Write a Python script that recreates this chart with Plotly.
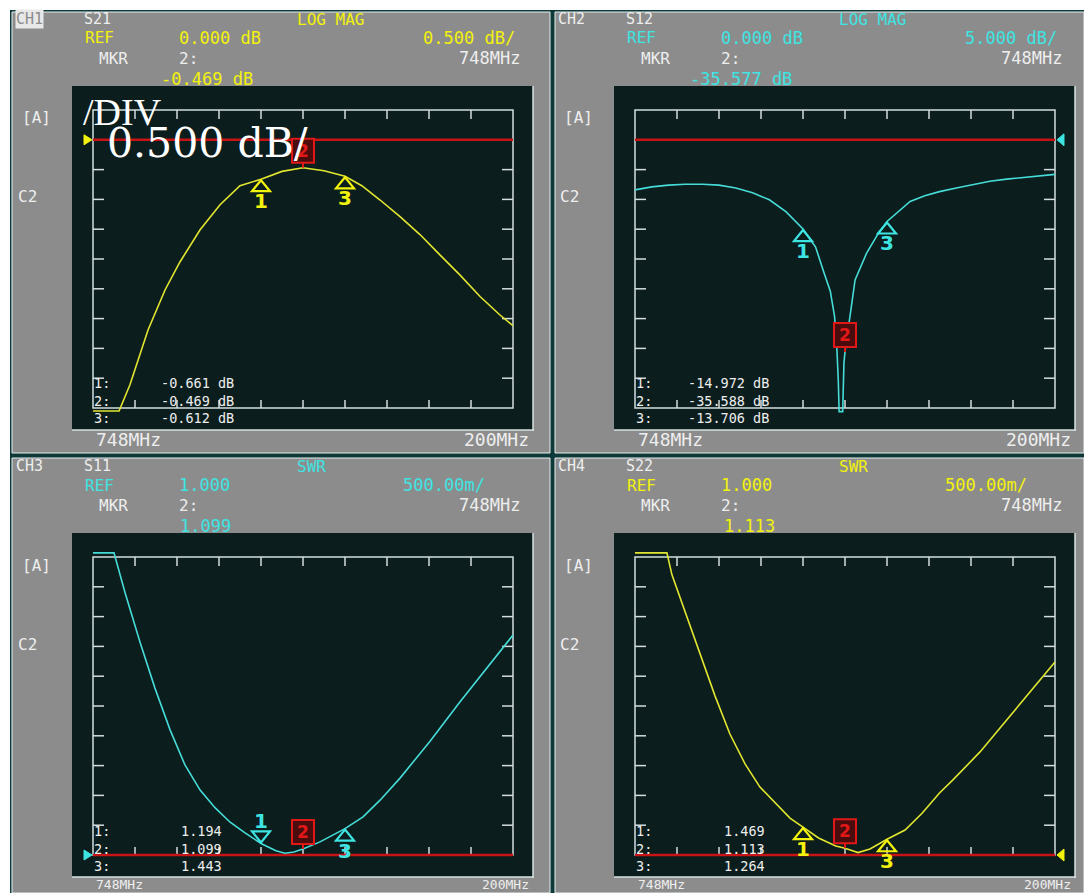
import plotly.graph_objects as go

W, H = 1084, 893

# ---------------- data ----------------
marker_mhz = [728, 748, 768]          # markers 1, 2, 3
freq_start, freq_stop = 648, 848       # 748 MHz centre, 200 MHz span

s21_mhz = [648, 660.4, 665.6, 674.2, 682.3, 689.4, 699.0, 708.5, 718.0, 728, 738, 748,
           758, 768, 776, 784.7, 794.2, 803.7, 813.2, 822.8, 832.3, 841.8, 848]
s21_db = [-4.55, -4.55, -4.11, -3.19, -2.52, -2.05, -1.51, -1.09, -0.77, -0.661, -0.53, -0.469,
          -0.52, -0.612, -0.77, -1.01, -1.29, -1.59, -1.93, -2.27, -2.63, -2.94, -3.12]

s12_mhz = [648, 656, 664, 672, 680, 688, 696, 704, 712, 720, 728, 734, 738, 741, 743, 744,
           744.8, 745.2, 746.9, 747.5, 748, 748.8, 750.4, 752.8, 758.3, 763, 768, 774, 779,
           786, 793, 801, 809, 817, 825, 834, 841, 848]
s12_db = [-8.4, -7.9, -7.6, -7.45, -7.45, -7.6, -8.1, -8.9, -10.07, -12.1, -14.972, -18.0,
          -22.3, -25.4, -29.6, -34.0, -40.3, -45.6, -45.6, -37.4, -35.588, -33.6, -29.0,
          -23.5, -19.0, -16.2, -13.706, -11.9, -10.35, -9.4, -8.7, -8.1, -7.5, -6.95, -6.6,
          -6.28, -6.0, -5.8]

s11_mhz = [648, 658, 663.2, 670.4, 677.5, 684.7, 691.8, 699.0, 706.2, 713.3, 720.4, 728,
           735.1, 739.4, 743.7, 748, 756.1, 768, 776.6, 784.7, 794.2, 808.5, 822.8, 837.0, 848]
s11_swr = [6.07, 6.07, 5.41, 4.57, 3.80, 3.10, 2.51, 2.09, 1.79, 1.55, 1.37, 1.194,
           1.07, 1.03, 1.05, 1.099, 1.22, 1.443, 1.64, 1.92, 2.29, 2.91, 3.57, 4.20, 4.69]

s22_mhz = [648, 663.2, 665.6, 671.8, 679.0, 686.1, 693.2, 700.4, 707.5, 714.7, 721.8, 728,
           735.4, 743.6, 748, 754.2, 759.9, 768, 776.6, 784.7, 793.0, 799.4, 812.3, 824.2,
           836.1, 848]
s22_swr = [6.07, 6.07, 5.70, 5.08, 4.36, 3.67, 3.03, 2.53, 2.14, 1.87, 1.62, 1.469,
           1.285, 1.15, 1.113, 1.04, 1.10, 1.264, 1.42, 1.70, 2.04, 2.26, 2.73, 3.23,
           3.73, 4.24]

mk_s21 = [-0.661, -0.469, -0.612]
mk_s12 = [-14.972, -35.588, -13.706]
mk_s11 = [1.194, 1.099, 1.443]
mk_s22 = [1.469, 1.113, 1.264]

# ---------------- styling ----------------
YEL = "#f2f20c"
CYA = "#3ee4e2"
WHT = "#eeeeee"
RED = "#e01818"
YEL_T = "#e2e630"
CYA_T = "#46dcd8"
FRAME = "#d4dede"
GREY = "#8c8c8c"
DARK = "#0b1d1d"
BORDER = "#0f3838"
MONO = "DejaVu Sans Mono"

panels = [
    dict(ch="CH1", sp="S21", fmt="LOG MAG", col=YEL, tcol=YEL_T, x=s21_mhz, y=s21_db, mk=mk_s21,
         top=0.5, bot=-4.5, ref=0.0, refside="left", ref_txt="0.000 dB", scale_txt="0.500 dB/",
         scale_right=516, mkr_txt="-0.469 dB", mkr_left=160, unit=" dB", list_left=160,
         dirs=["up", "box", "up"], active=True),
    dict(ch="CH2", sp="S12", fmt="LOG MAG", col=CYA, tcol=CYA_T, x=s12_mhz, y=s12_db, mk=mk_s12,
         top=5.0, bot=-45.0, ref=0.0, refside="right", ref_txt="0.000 dB", scale_txt="5.000 dB/",
         scale_right=516, mkr_txt="-35.577 dB", mkr_left=147, unit=" dB", list_left=145,
         dirs=["up", "box", "up"], active=False),
    dict(ch="CH3", sp="S11", fmt="SWR", col=CYA, tcol=CYA_T, x=s11_mhz, y=s11_swr, mk=mk_s11,
         top=6.0, bot=1.0, ref=1.0, refside="left", ref_txt="1.000", scale_txt="500.00m/",
         scale_right=486, mkr_txt="1.099", mkr_left=179, unit="", list_left=180,
         dirs=["down", "box", "up"], active=False),
    dict(ch="CH4", sp="S22", fmt="SWR", col=YEL, tcol=YEL_T, x=s22_mhz, y=s22_swr, mk=mk_s22,
         top=6.0, bot=1.0, ref=1.0, refside="right", ref_txt="1.000", scale_txt="500.00m/",
         scale_right=486, mkr_txt="1.113", mkr_left=181, unit="", list_left=181,
         dirs=["up", "box", "up"], active=False),
]

fig = go.Figure()
shapes = []
annotations = []
layout_axes = {}


def ptext(px, py, s, color, size=18, xanchor="left", family=MONO, bg=None, align="left"):
    annotations.append(dict(
        x=px / W, y=1 - py / H, xref="paper", yref="paper", text=s, showarrow=False,
        xanchor=xanchor, yanchor="middle", align=align,
        font=dict(family=family, size=size, color=color), bgcolor=bg, borderpad=0))


def prect(x0, y0, x1, y1, fill, line=None, lw=0):
    shapes.append(dict(type="rect", xref="paper", yref="paper", x0=x0 / W, x1=x1 / W,
                       y0=1 - y1 / H, y1=1 - y0 / H, fillcolor=fill, layer="below",
                       line=dict(color=line or fill, width=lw)))


def pline(x0, y0, x1, y1, color, lw):
    shapes.append(dict(type="line", xref="paper", yref="paper", x0=x0 / W, x1=x1 / W,
                       y0=1 - y0 / H, y1=1 - y1 / H, layer="below",
                       line=dict(color=color, width=lw)))


# outer border and panel backgrounds
prect(10, 10, W, H, BORDER)
for (gx0, gy0, gx1, gy1) in [(12, 12, 550, 453), (555, 12, W, 453),
                              (12, 458, 550, H), (555, 458, W, H)]:
    prect(gx0, gy0, gx1, gy1, GREY, "#e6eeee", 1)

for i, p in enumerate(panels):
    dx = 542 * (i % 2)
    dy = 447 * (i // 2)
    # pixel geometry of dark area and graticule
    ax0, ax1, ay0, ay1 = 72 + dx, 533 + dx, 86 + dy, 430 + dy
    fx0, fx1, fy0, fy1 = 93 + dx, 513 + dx, 110 + dy, 408 + dy
    ppx = (fx1 - fx0) / (freq_stop - freq_start)
    ppy = (fy1 - fy0) / (p["top"] - p["bot"])
    xr = [freq_start - (fx0 - ax0) / ppx, freq_stop + (ax1 - fx1) / ppx]
    yr = [p["bot"] - (ay1 - fy1) / ppy, p["top"] + (fy0 - ay0) / ppy]

    sx = "" if i == 0 else str(i + 1)
    xref, yref = "x" + sx, "y" + sx
    layout_axes["xaxis" + sx] = dict(domain=[ax0 / W, ax1 / W], range=xr, visible=False,
                                     fixedrange=True, anchor=yref)
    layout_axes["yaxis" + sx] = dict(domain=[1 - ay1 / H, 1 - ay0 / H], range=yr, visible=False,
                                     fixedrange=True, anchor=xref)

    # dark display area with light right/bottom edge
    prect(ax0, ay0, ax1, ay1, DARK)
    pline(ax1, ay0, ax1, ay1 + 1, "#d8e2e2", 1.5)
    pline(ax0, ay1, ax1 + 1, ay1, "#d8e2e2", 1.5)

    # graticule frame and ticks
    fl = dict(color=FRAME, width=1.5)
    shapes.append(dict(type="rect", xref=xref, yref=yref, x0=freq_start, x1=freq_stop,
                       y0=p["bot"], y1=p["top"], line=fl, layer="below"))
    step_x = (freq_stop - freq_start) / 10
    step_y = (p["top"] - p["bot"]) / 10
    for k in range(1, 10):
        fx = freq_start + k * step_x
        shapes.append(dict(type="line", xref=xref, yref=yref, x0=fx, x1=fx, ysizemode="pixel",
                           yanchor=p["top"], y0=0, y1=-9, line=fl, layer="below"))
        shapes.append(dict(type="line", xref=xref, yref=yref, x0=fx, x1=fx, ysizemode="pixel",
                           yanchor=p["bot"], y0=0, y1=8, line=fl, layer="below"))
        fy = p["bot"] + k * step_y
        shapes.append(dict(type="line", xref=xref, yref=yref, y0=fy, y1=fy, xsizemode="pixel",
                           xanchor=freq_start, x0=0, x1=11, line=fl, layer="below"))
        shapes.append(dict(type="line", xref=xref, yref=yref, y0=fy, y1=fy, xsizemode="pixel",
                           xanchor=freq_stop, x0=0, x1=-11, line=fl, layer="below"))

    # reference line and reference pointer
    shapes.append(dict(type="line", xref=xref, yref=yref, x0=freq_start, x1=freq_stop,
                       y0=p["ref"], y1=p["ref"], line=dict(color="#c81414", width=2.5),
                       layer="below"))
    if p["refside"] == "left":
        shapes.append(dict(type="path", xref=xref, yref=yref, xsizemode="pixel",
                           ysizemode="pixel", xanchor=freq_start, yanchor=p["ref"],
                           path="M -9,5 L -1,0 L -9,-5 Z", fillcolor=p["col"],
                           line=dict(color=p["col"], width=1)))
    else:
        shapes.append(dict(type="path", xref=xref, yref=yref, xsizemode="pixel",
                           ysizemode="pixel", xanchor=freq_stop, yanchor=p["ref"],
                           path="M 2,0 L 9,6 L 9,-6 Z", fillcolor=p["col"],
                           line=dict(color=p["col"], width=1)))

    # trace
    fig.add_trace(go.Scatter(x=p["x"], y=p["y"], mode="lines", xaxis=xref, yaxis=yref,
                             line=dict(color=p["tcol"], width=1.6), hoverinfo="skip",
                             showlegend=False))

    # markers
    for n, (mf, mv, d) in enumerate(zip(marker_mhz, p["mk"], p["dirs"])):
        label = str(n + 1)
        if d == "box":
            shapes.append(dict(type="line", xref=xref, yref=yref, xsizemode="pixel",
                               ysizemode="pixel", xanchor=mf, yanchor=mv, x0=0, x1=0, y0=0, y1=5,
                               line=dict(color=RED, width=2), layer="above"))
            shapes.append(dict(type="rect", xref=xref, yref=yref, xsizemode="pixel",
                               ysizemode="pixel", xanchor=mf, yanchor=mv, x0=-11, x1=11, y0=5,
                               y1=29, fillcolor="#4a0c0c", line=dict(color=RED, width=2),
                               layer="above"))
            annotations.append(dict(x=mf, y=mv, xref=xref, yref=yref, text="<b>" + label + "</b>",
                                    showarrow=False, yshift=17, xanchor="center",
                                    yanchor="middle",
                                    font=dict(family="DejaVu Sans", size=17, color=RED)))
        else:
            if d == "up":
                path = "M 0,-1 L -9,-12 L 9,-12 Z"
                ys = -22
            else:
                path = "M 0,1 L -9,12 L 9,12 Z"
                ys = 22
            shapes.append(dict(type="path", xref=xref, yref=yref, xsizemode="pixel",
                               ysizemode="pixel", xanchor=mf, yanchor=mv, path=path,
                               line=dict(color=p["col"], width=2.2), layer="above"))
            annotations.append(dict(x=mf, y=mv, xref=xref, yref=yref, text="<b>" + label + "</b>",
                                    showarrow=False, yshift=ys, xanchor="center",
                                    yanchor="middle",
                                    font=dict(family="DejaVu Sans", size=20, color=p["col"])))

    # header texts
    if p["active"]:
        ptext(15 + dx, 19 + dy, p["ch"], GREY, 15, bg="#e8e8e8")
    else:
        ptext(15 + dx, 19 + dy, p["ch"], WHT, 15)
    ptext(83 + dx, 19 + dy, p["sp"], WHT, 15)
    ptext(296 + dx, 19 + dy, p["fmt"], p["col"], 16)
    ptext(84 + dx, 38 + dy, "REF", p["col"], 16)
    ptext(178 + dx, 38 + dy, p["ref_txt"], p["col"], 17)
    ptext(p["scale_right"] + dx, 38 + dy, p["scale_txt"], p["col"], 17, xanchor="right")
    ptext(98 + dx, 58 + dy, "MKR", WHT, 16)
    ptext(178 + dx, 58 + dy, "2:", WHT, 16)
    ptext(521 + dx, 58 + dy, "748MHz", WHT, 17, xanchor="right")
    ptext(p["mkr_left"] + dx, 79 + dy, p["mkr_txt"], p["col"], 17)
    ptext(21 + dx, 118 + dy, "[A]", WHT, 16)
    ptext(17 + dx, 197 + dy, "C2", WHT, 16)
    if dy == 0:
        ptext(95 + dx, 439, "748MHz", WHT, 18)
        ptext(530 + dx, 439, "200MHz", WHT, 18, xanchor="right")
    else:
        ptext(95 + dx, 884, "748MHz", WHT, 13)
        ptext(530 + dx, 884, "200MHz", WHT, 13, xanchor="right")

    # marker readout list (one multi-line block per column)
    labels = "<br>".join(f"{n + 1}:" for n in range(3))
    values = "<br>".join(f"{mv:.3f}" + p["unit"] for mv in p["mk"])
    ptext(93 + dx, 401 + dy, labels, WHT, 13.5)
    ptext(p["list_left"] + dx, 401 + dy, values, WHT, 13.5)

# big scale label overlay on channel 1
ptext(82, 112, "/DIV", "#ffffff", 38, family="Liberation Serif")
ptext(106, 143, "0.500 dB/", "#ffffff", 41, family="DejaVu Serif")

fig.update_layout(
    width=W, height=H, margin=dict(l=0, r=0, t=0, b=0),
    paper_bgcolor="#ffffff", plot_bgcolor="rgba(0,0,0,0)", showlegend=False,
    shapes=shapes, annotations=annotations, **layout_axes)

fig.write_html("out.html", config={"displayModeBar": False},
               post_script="document.body.style.margin='0px';")
